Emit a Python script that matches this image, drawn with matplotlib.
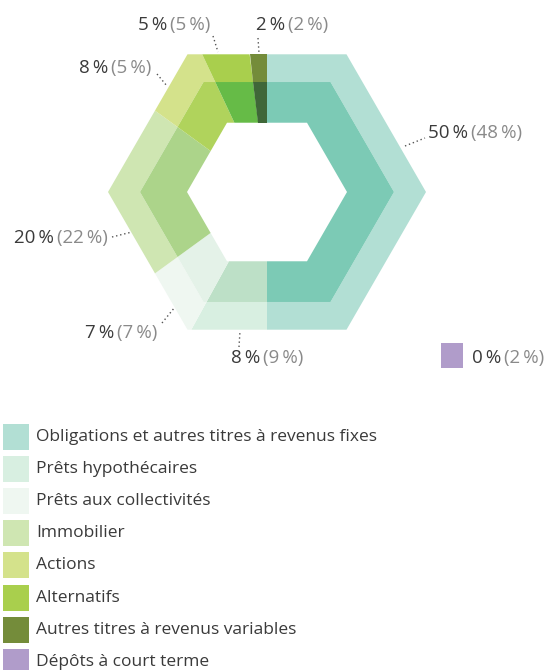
import numpy as np
import matplotlib
matplotlib.use("Agg")
import matplotlib.pyplot as plt
from matplotlib.patches import Polygon, Rectangle

plt.rcParams.update({
    "font.family": ["Open Sans", "DejaVu Sans"],
    "font.size": 12,
})

# ── data ──────────────────────────────────────────────
categories = [
    "Obligations et autres titres à revenus fixes",
    "Prêts hypothécaires",
    "Prêts aux collectivités",
    "Immobilier",
    "Actions",
    "Alternatifs",
    "Autres titres à revenus variables",
    "Dépôts à court terme",
]
current = [50, 8, 7, 20, 8, 5, 2, 0]
previous = [48, 9, 7, 22, 5, 5, 2, 2]
outer_colors = ["#b2dfd4", "#d8efe1", "#eff7f1", "#cfe6b2", "#d4e28b",
                "#a9cf4d", "#748c3a", "#b09cca"]
inner_colors = ["#7ccab5", "#bde0c7", "#e4f2e8", "#acd48a", "#b0d35c",
                "#66bb47", "#3f6738", "#9c86bd"]

# ── geometry (pixels) ─────────────────────────────────
W, H = 548, 670
CX, CY = 267, 192
R_OUT, R_MID, R_IN = 159, 127, 80


def hex_pt(theta, R):
    # theta: degrees clockwise from 12 o'clock; flat-top hexagon
    ap = R * np.sqrt(3) / 2
    n = np.round(theta / 60.0) * 60.0
    r = ap / np.cos(np.radians(theta - n))
    t = np.radians(theta)
    return CX + r * np.sin(t), CY - r * np.cos(t)


def arc(a0, a1, R):
    angs = [a0] + [v for v in np.arange(30, 360, 60) if a0 < v < a1] + [a1]
    return [hex_pt(a, R) for a in angs]


fig = plt.figure(figsize=(W / 100, H / 100), dpi=100)
ax = fig.add_axes([0, 0, 1, 1])
ax.set_xlim(0, W)
ax.set_ylim(H, 0)
ax.axis("off")

total = sum(current)
start = 0.0
for i, v in enumerate(current):
    if v == 0:
        continue
    a0 = start
    a1 = start + 360.0 * v / total
    start = a1
    outer = arc(a0, a1, R_OUT) + arc(a0, a1, R_MID)[::-1]
    inner = arc(a0, a1, R_MID) + arc(a0, a1, R_IN)[::-1]
    ax.add_patch(Polygon(outer, closed=True, fc=outer_colors[i], ec="none"))
    ax.add_patch(Polygon(inner, closed=True, fc=inner_colors[i], ec="none"))

# ── labels with dotted leaders ────────────────────────
# (text left x, text centre y, leader start, leader end)
label_pos = [
    (428, 133, (405, 146), (425, 138)),
    (231, 358, (239, 347), (240, 331)),
    (85, 333, (162, 323), (175, 307)),
    (14, 238, (112, 237), (132, 232)),
    (79, 68, (157, 74), (167, 86)),
    (138, 25, (213, 36), (218, 52)),
    (256, 25, (258, 38), (259, 53)),
    (472, 358, None, None),
]

fig.canvas.draw()
renderer = fig.canvas.get_renderer()
inv = ax.transData.inverted()
for i, (x, y, p0, p1) in enumerate(label_pos):
    t1 = ax.text(x, y, f"{current[i]}\u2009%", color="#3a3a3a", fontsize=13.5,
                 ha="left", va="center")
    bb = t1.get_window_extent(renderer)
    xe = inv.transform((bb.x1, bb.y0))[0]
    ax.text(xe + 3, y, f"({previous[i]}\u2009%)", color="#8a8a8a", fontsize=13.5,
            ha="left", va="center")
    if p0 is not None:
        ax.plot([p0[0], p1[0]], [p0[1], p1[1]], color="#555555", lw=1,
                ls=(0, (1, 2)))

# purple marker for the 0 % category
ax.add_patch(Rectangle((441, 343), 22, 25, fc=outer_colors[7], ec="none"))

# ── legend ────────────────────────────────────────────
for i, name in enumerate(categories):
    yc = 437 + i * 32.1
    ax.add_patch(Rectangle((3, yc - 13), 26, 26, fc=outer_colors[i], ec="none"))
    ax.text(36, yc, name, color="#3a3a3a", fontsize=12.5, ha="left", va="center")

fig.savefig("out.png", dpi=100)
